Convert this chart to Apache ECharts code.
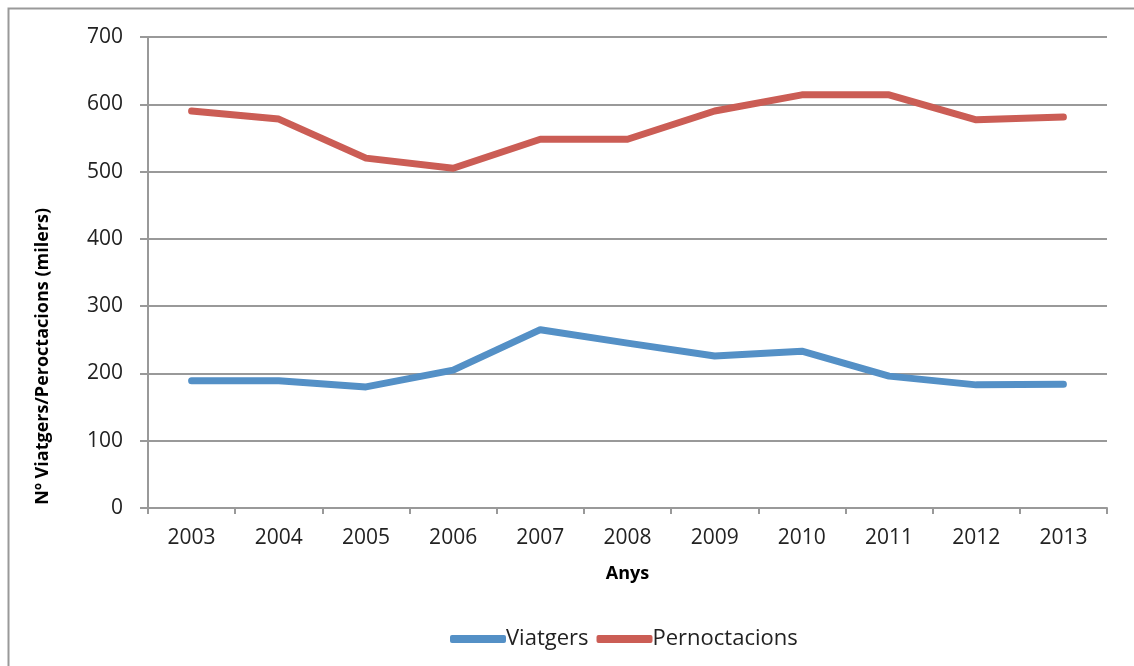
<!DOCTYPE html>
<html><head><meta charset="utf-8">
<script src="https://cdn.jsdelivr.net/npm/echarts@6/dist/echarts.min.js"></script>
<style>html,body{margin:0;padding:0;background:#fff}#c{width:1134px;height:666px}</style>
</head><body><div id="c"></div>
<script>
const years = ['2003','2004','2005','2006','2007','2008','2009','2010','2011','2012','2013'];
const viatgers = [189,189,180,205,265,245,226,233,196,183,184];
const pernoctacions = [590,578,520,505,548,548,590,614,614,577,581];
const yTicks = [0,100,200,300,400,500,600,700];

const font = '"Open Sans", "DejaVu Sans", sans-serif';
const chart = echarts.init(document.getElementById('c'));
chart.setOption({
  animation:false,
  backgroundColor:'#fff',
  graphic:[
    {type:'rect',shape:{x:8.5,y:8.5,width:1200,height:700},style:{fill:'none',stroke:'#999',lineWidth:2},silent:true},
    {type:'text',left:34,top:208,rotation:Math.PI/2,style:{text:'Nº Viatgers/Peroctacions (milers)',font:'bold 18px '+font,fill:'#000'}}
  ],
  grid:{left:148,right:27,top:37,bottom:158},
  legend:{
    top:623,left:445,
    itemWidth:56,itemHeight:8,itemGap:8,
    icon:'roundRect',
    textStyle:{fontFamily:font,fontSize:22,color:'#222',padding:[0,0,0,-5]},
    data:['Viatgers','Pernoctacions']
  },
  xAxis:{
    type:'category',data:years,boundaryGap:true,
    name:'Anys',nameLocation:'middle',nameGap:57,
    nameTextStyle:{fontFamily:font,fontSize:18,fontWeight:'bold',color:'#000'},
    axisLine:{lineStyle:{color:'#999',width:2}},
    axisTick:{show:true,length:6,lineStyle:{color:'#999',width:2}},
    axisLabel:{fontFamily:font,fontSize:21,color:'#222',margin:20}
  },
  yAxis:{
    type:'value',min:0,max:700,interval:100,
    axisLine:{show:true,lineStyle:{color:'#999',width:2}},
    axisTick:{show:true,length:8,lineStyle:{color:'#999',width:2}},
    splitLine:{lineStyle:{color:'#999',width:2}},
    axisLabel:{fontFamily:font,fontSize:21,color:'#222',margin:25,formatter:v=>yTicks.includes(v)?String(v):''}
  },
  series:[
    {name:'Viatgers',type:'line',data:viatgers,symbol:'none',color:'#5490C6',
     lineStyle:{width:7,color:'#5490C6',cap:'round',join:'round'}},
    {name:'Pernoctacions',type:'line',data:pernoctacions,symbol:'none',color:'#CB5D55',
     lineStyle:{width:7,color:'#CB5D55',cap:'round',join:'round'}}
  ]
});
</script></body></html>
